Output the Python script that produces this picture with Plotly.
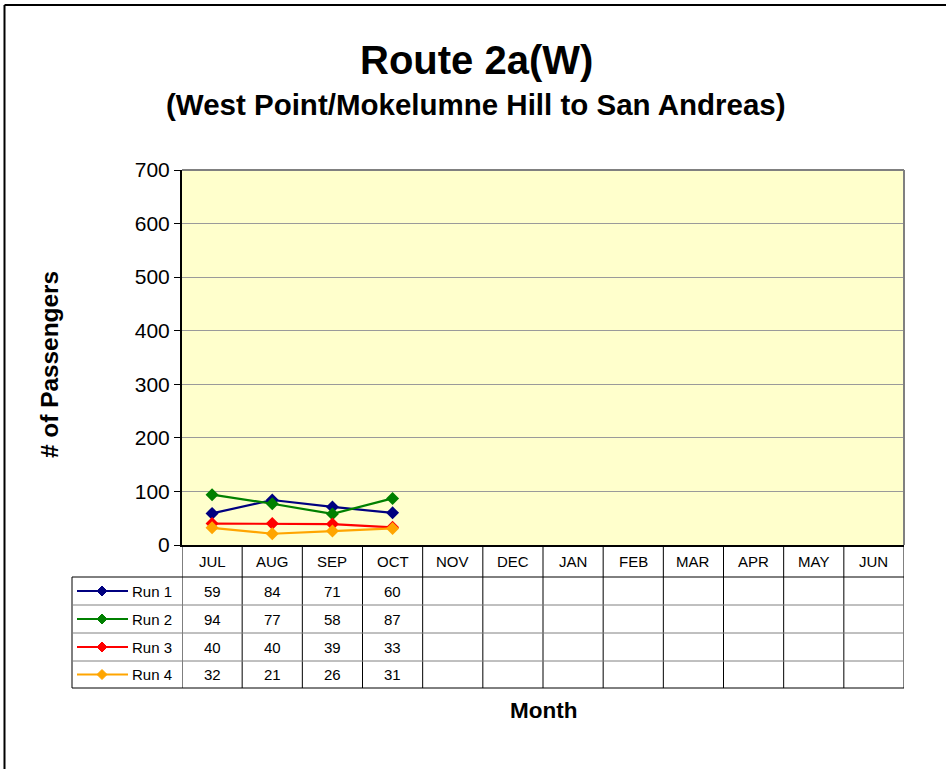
import plotly.graph_objects as go

months = ["JUL", "AUG", "SEP", "OCT", "NOV", "DEC", "JAN", "FEB", "MAR", "APR", "MAY", "JUN"]
series_names = ["Run 1", "Run 2", "Run 3", "Run 4"]
run1 = [59, 84, 71, 60]
run2 = [94, 77, 58, 87]
run3 = [40, 40, 39, 33]
run4 = [32, 21, 26, 31]
series_values = [run1, run2, run3, run4]
colors = ["#000080", "#008000", "#FF0000", "#FFA500"]
y_ticks = [0, 100, 200, 300, 400, 500, 600, 700]

FONT = "Liberation Sans, Arial, sans-serif"

# layout geometry (pixels)
W, H = 946, 769
L, R, T, B = 182, 904, 170, 545
pw, ph = R - L, B - T

def px(x):
    return (x - L) / pw

def py(y):
    return (B - y) / ph

fig = go.Figure()
for name, vals, c in zip(series_names, series_values, colors):
    fig.add_trace(go.Scatter(
        x=months[:len(vals)], y=vals, name=name, mode="lines+markers",
        line=dict(color=c, width=2.2),
        marker=dict(symbol="diamond", size=10, color=c),
        cliponaxis=False, showlegend=False,
    ))

shapes = []
annotations = []

# plot-area border (gray top/right)
shapes.append(dict(type="line", xref="paper", yref="paper", x0=0, x1=1, y0=1, y1=1,
                   line=dict(color="#808080", width=2)))
shapes.append(dict(type="line", xref="paper", yref="paper", x0=1, x1=1, y0=0, y1=1,
                   line=dict(color="#808080", width=2)))

# table rows
header_bot = 577
row_edges = [577, 605, 633, 661, 688]
tbl_left = 72
black = "#000000"
gray = "#808080"

for i in range(len(months) + 1):
    xv = i - 0.5
    shapes.append(dict(type="line", xref="x", yref="paper", x0=xv, x1=xv,
                       y0=py(B), y1=py(row_edges[-1]), line=dict(color=black, width=1)))
shapes.append(dict(type="line", xref="paper", yref="paper", x0=px(tbl_left), x1=px(tbl_left),
                   y0=py(row_edges[0]), y1=py(row_edges[-1]), line=dict(color=black, width=1)))
for j, yv in enumerate(row_edges):
    col = black if j in (0, len(row_edges) - 1) else gray
    shapes.append(dict(type="line", xref="paper", yref="paper", x0=px(tbl_left), x1=1,
                       y0=py(yv), y1=py(yv), line=dict(color=col, width=1)))

for m in months:
    annotations.append(dict(x=m, xref="x", y=py((B + header_bot) / 2), yref="paper",
                            text=m, showarrow=False, xanchor="center", yanchor="middle",
                            font=dict(family=FONT, size=15, color="black")))

for k, (name, vals, c) in enumerate(zip(series_names, series_values, colors)):
    ymid = (row_edges[k] + row_edges[k + 1]) / 2
    for m, v in zip(months, vals):
        annotations.append(dict(x=m, xref="x", y=py(ymid), yref="paper",
                                text=str(v), showarrow=False, xanchor="center", yanchor="middle",
                                font=dict(family=FONT, size=15, color="black")))
    shapes.append(dict(type="line", xref="paper", yref="paper", x0=px(77), x1=px(128),
                       y0=py(ymid), y1=py(ymid), line=dict(color=c, width=2)))
    cx, cy, d = 102, ymid, 5
    path = "M {} {} L {} {} L {} {} L {} {} Z".format(
        px(cx - d), py(cy), px(cx), py(cy - d), px(cx + d), py(cy), px(cx), py(cy + d))
    shapes.append(dict(type="path", xref="paper", yref="paper", path=path,
                       fillcolor=c, line=dict(color=c, width=1)))
    annotations.append(dict(x=px(130), xref="paper", y=py(ymid), yref="paper",
                            text=name, showarrow=False, xanchor="left", yanchor="middle",
                            font=dict(family=FONT, size=15, color="black")))

titles = [
    dict(x=476, y=60, text="<b>Route 2a(W)</b>", size=40),
    dict(x=476, y=104, text="<b>(West Point/Mokelumne Hill to San Andreas)</b>", size=29.5),
    dict(x=543, y=710, text="<b>Month</b>", size=22.5),
]
for a in titles:
    annotations.append(dict(x=px(a["x"]), y=py(a["y"]), xref="paper", yref="paper", text=a["text"],
                            showarrow=False, xanchor="center", yanchor="middle",
                            font=dict(family=FONT, size=a["size"], color="black")))
annotations.append(dict(x=px(49), y=py(365), xref="paper", yref="paper",
                        text="<b># of Passengers</b>", textangle=-90, showarrow=False,
                        xanchor="center", yanchor="middle",
                        font=dict(family=FONT, size=24.4, color="black")))

fig.update_layout(
    width=W, height=H,
    margin=dict(l=L, r=W - R, t=T, b=H - B, autoexpand=False),
    paper_bgcolor="white",
    plot_bgcolor="#FFFFCC",
    shapes=shapes,
    annotations=annotations,
    xaxis=dict(type="category", categoryorder="array", categoryarray=months,
               range=[-0.5, len(months) - 0.5], showticklabels=False, showgrid=False,
               zeroline=False, showline=True, linecolor="black", linewidth=2, ticks=""),
    yaxis=dict(range=[0, 700], tickvals=y_ticks, showgrid=True, gridcolor="#9a9a9a",
               gridwidth=1, zeroline=False, showline=True, linecolor="black", linewidth=2,
               ticks="outside", ticklen=6, tickcolor="black",
               tickfont=dict(family=FONT, size=21, color="black")),
)

fig.add_shape(type="line", xref="paper", yref="paper", x0=px(4.5), x1=px(W + 5),
              y0=py(5), y1=py(5), line=dict(color="black", width=2))
fig.add_shape(type="line", xref="paper", yref="paper", x0=px(4.5), x1=px(4.5),
              y0=py(5), y1=py(H + 5), line=dict(color="black", width=2))

fig.write_html("out.html", config={"displayModeBar": False},
               post_script="document.body.style.margin='0px';")
